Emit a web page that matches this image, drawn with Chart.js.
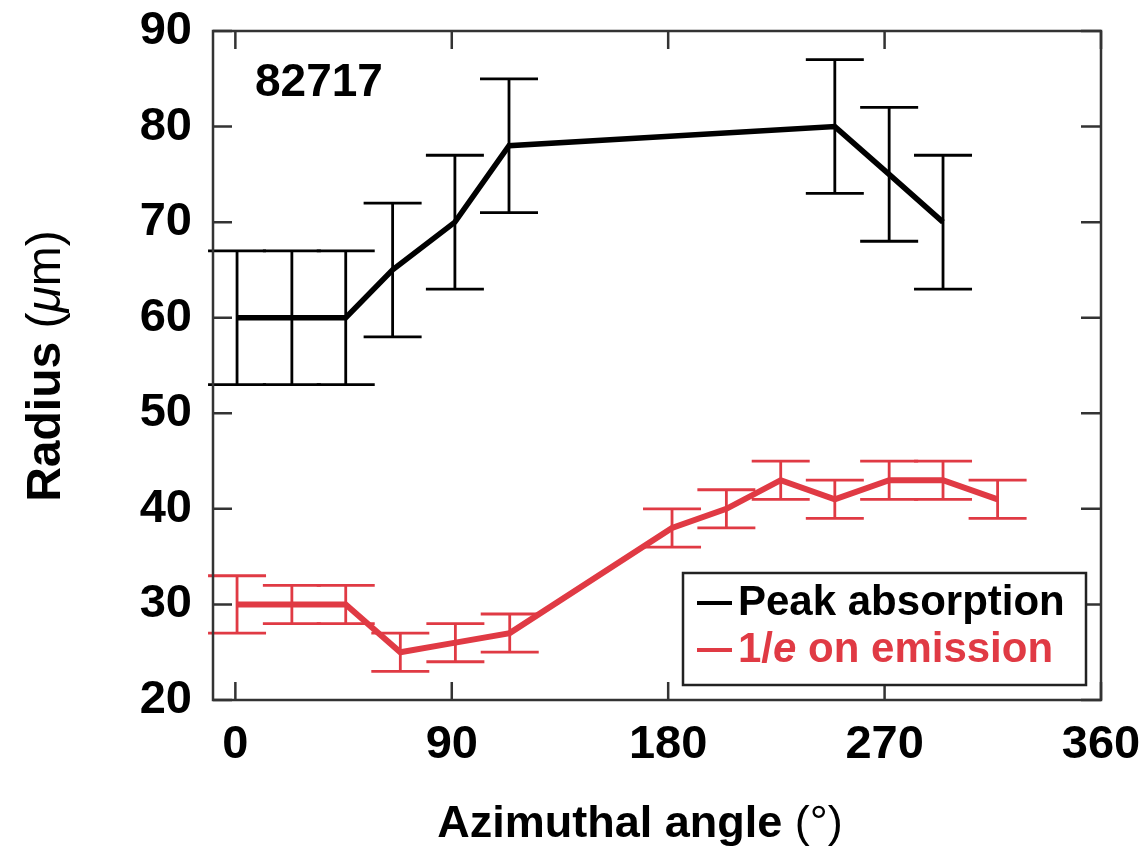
<!DOCTYPE html>
<html>
<head>
<meta charset="utf-8">
<script src="https://cdn.jsdelivr.net/npm/chart.js@4.4.0/dist/chart.umd.min.js"></script>
<style>
  body { margin: 0; background: #fff; }
  #wrap { width: 1144px; height: 848px; }
</style>
</head>
<body>
<div id="wrap"><canvas id="radiusChart"></canvas></div>
<script>
// peak absorption (black)
const peakAngles = [0.7, 23.5, 45.9, 65.4, 91.3, 113.8, 249.3, 271.9, 294.3];
const peakRadius = [60, 60, 60, 65, 70, 78, 80, 75, 70];
const peakErr = [7, 7, 7, 7, 7, 7, 7, 7, 7];

// 1/e on emission (red)
const emisAngles = [0.7, 23.5, 45.9, 68.6, 91.5, 114.1, 181.6, 204.2, 226.8, 249.3, 271.9, 294.3, 317.0];
const emisRadius = [30, 30, 30, 25, 26, 27, 38, 40, 43, 41, 43, 43, 41];
const emisErr = [3, 2, 2, 2, 2, 2, 2, 2, 2, 2, 2, 2, 2];

const xTicks = [0, 90, 180, 270, 360];
const yTicks = [20, 30, 40, 50, 60, 70, 80, 90];
const shotLabel = "82717";

const RED = "#e03a44";
const FONT = "'Liberation Sans', Arial, Helvetica, sans-serif";

function toPoints(xs, ys) {
  return xs.map((x, i) => ({ x: x, y: ys[i] }));
}

// draw a run of text pieces with different fonts
function drawParts(ctx, parts, x, y, align) {
  let total = 0;
  parts.forEach(p => { ctx.font = p.font; total += ctx.measureText(p.text).width; });
  let cx = align === "center" ? x - total / 2 : x;
  ctx.textAlign = "left";
  ctx.textBaseline = "alphabetic";
  parts.forEach(p => {
    ctx.font = p.font;
    ctx.fillStyle = p.color || "#000";
    ctx.fillText(p.text, cx, y);
    cx += ctx.measureText(p.text).width;
  });
}

const extras = {
  id: "extras",
  beforeDatasetsDraw(chart) {
    const ctx = chart.ctx;
    const xs = chart.scales.x, ys = chart.scales.y;
    const sets = [
      { a: peakAngles, v: peakRadius, e: peakErr, c: "#000" },
      { a: emisAngles, v: emisRadius, e: emisErr, c: RED }
    ];
    ctx.save();
    ctx.lineWidth = 2.8;
    sets.forEach(s => {
      ctx.strokeStyle = s.c;
      s.a.forEach((ang, i) => {
        const px = xs.getPixelForValue(ang);
        const top = ys.getPixelForValue(s.v[i] + s.e[i]);
        const bot = ys.getPixelForValue(s.v[i] - s.e[i]);
        ctx.beginPath();
        ctx.moveTo(px, top); ctx.lineTo(px, bot);
        ctx.moveTo(px - 29, top); ctx.lineTo(px + 29, top);
        ctx.moveTo(px - 29, bot); ctx.lineTo(px + 29, bot);
        ctx.stroke();
      });
    });
    ctx.restore();
  },
  afterDraw(chart) {
    const ctx = chart.ctx;
    const a = chart.chartArea;
    const xs = chart.scales.x, ys = chart.scales.y;
    ctx.save();

    // frame + inward ticks
    ctx.strokeStyle = "#333";
    ctx.lineWidth = 2.5;
    ctx.strokeRect(a.left, a.top, a.right - a.left, a.bottom - a.top);
    ctx.beginPath();
    xTicks.forEach(v => {
      const px = xs.getPixelForValue(v);
      ctx.moveTo(px, a.top); ctx.lineTo(px, a.top + 18);
      ctx.moveTo(px, a.bottom); ctx.lineTo(px, a.bottom - 18);
    });
    yTicks.forEach(v => {
      const py = ys.getPixelForValue(v);
      ctx.moveTo(a.left, py); ctx.lineTo(a.left + 19, py);
      ctx.moveTo(a.right, py); ctx.lineTo(a.right - 20, py);
    });
    ctx.stroke();

    // shot number
    drawParts(ctx, [{ text: shotLabel, font: "bold 46px " + FONT }], 255, 96, "left");

    // axis titles
    drawParts(ctx, [
      { text: "Azimuthal angle ", font: "bold 45px " + FONT },
      { text: "(°)", font: "45px " + FONT }
    ], 640, 837, "center");

    ctx.save();
    ctx.translate(60, 366);
    ctx.rotate(-Math.PI / 2);
    drawParts(ctx, [
      { text: "Radius ", font: "bold 48px " + FONT },
      { text: "(", font: "48px " + FONT },
      { text: "μ", font: "italic 48px " + FONT },
      { text: "m)", font: "48px " + FONT }
    ], 0, 0, "center");
    ctx.restore();

    // legend box
    ctx.fillStyle = "#fff";
    ctx.fillRect(683, 573, 403, 112);
    ctx.strokeStyle = "#222";
    ctx.lineWidth = 2.5;
    ctx.strokeRect(683, 573, 403, 112);
    ctx.lineWidth = 4;
    ctx.strokeStyle = "#000";
    ctx.beginPath(); ctx.moveTo(697, 603); ctx.lineTo(732, 603); ctx.stroke();
    ctx.strokeStyle = RED;
    ctx.beginPath(); ctx.moveTo(697, 650); ctx.lineTo(732, 650); ctx.stroke();
    drawParts(ctx, [{ text: "Peak absorption", font: "bold 42px " + FONT }], 738, 615, "left");
    drawParts(ctx, [
      { text: "1/", font: "bold 42px " + FONT, color: RED },
      { text: "e", font: "italic bold 42px " + FONT, color: RED },
      { text: " on emission", font: "bold 42px " + FONT, color: RED }
    ], 738, 662, "left");

    ctx.restore();
  }
};

new Chart(document.getElementById("radiusChart"), {
  type: "line",
  data: {
    datasets: [
      {
        label: "Peak absorption",
        data: toPoints(peakAngles, peakRadius),
        borderColor: "#000",
        borderWidth: 5.5,
        pointRadius: 0,
        tension: 0
      },
      {
        label: "1/e on emission",
        data: toPoints(emisAngles, emisRadius),
        borderColor: RED,
        borderWidth: 6,
        pointRadius: 0,
        tension: 0
      }
    ]
  },
  options: {
    responsive: true,
    maintainAspectRatio: false,
    animation: false,
    layout: { padding: { top: 31, right: 43, left: 0, bottom: 0 } },
    plugins: {
      legend: { display: false },
      tooltip: { enabled: false }
    },
    scales: {
      x: {
        type: "linear",
        min: -9.3,
        max: 360,
        afterBuildTicks: scale => { scale.ticks = xTicks.map(v => ({ value: v })); },
        afterFit: scale => {
          scale.height = 148;
          scale.paddingLeft = 0;
          scale.paddingRight = 0;
        },
        grid: { display: false, drawTicks: false },
        border: { display: false },
        ticks: {
          padding: 17,
          maxRotation: 0,
          autoSkip: false,
          color: "#000",
          font: { family: FONT, size: 47, weight: "bold" }
        }
      },
      y: {
        min: 20,
        max: 90,
        afterBuildTicks: scale => { scale.ticks = yTicks.map(v => ({ value: v })); },
        afterFit: scale => {
          scale.width = 213;
          scale.paddingTop = 0;
          scale.paddingBottom = 0;
        },
        grid: { display: false, drawTicks: false },
        border: { display: false },
        ticks: {
          padding: 21,
          color: "#000",
          font: { family: FONT, size: 47, weight: "bold" }
        }
      }
    }
  },
  plugins: [extras]
});
</script>
</body>
</html>
